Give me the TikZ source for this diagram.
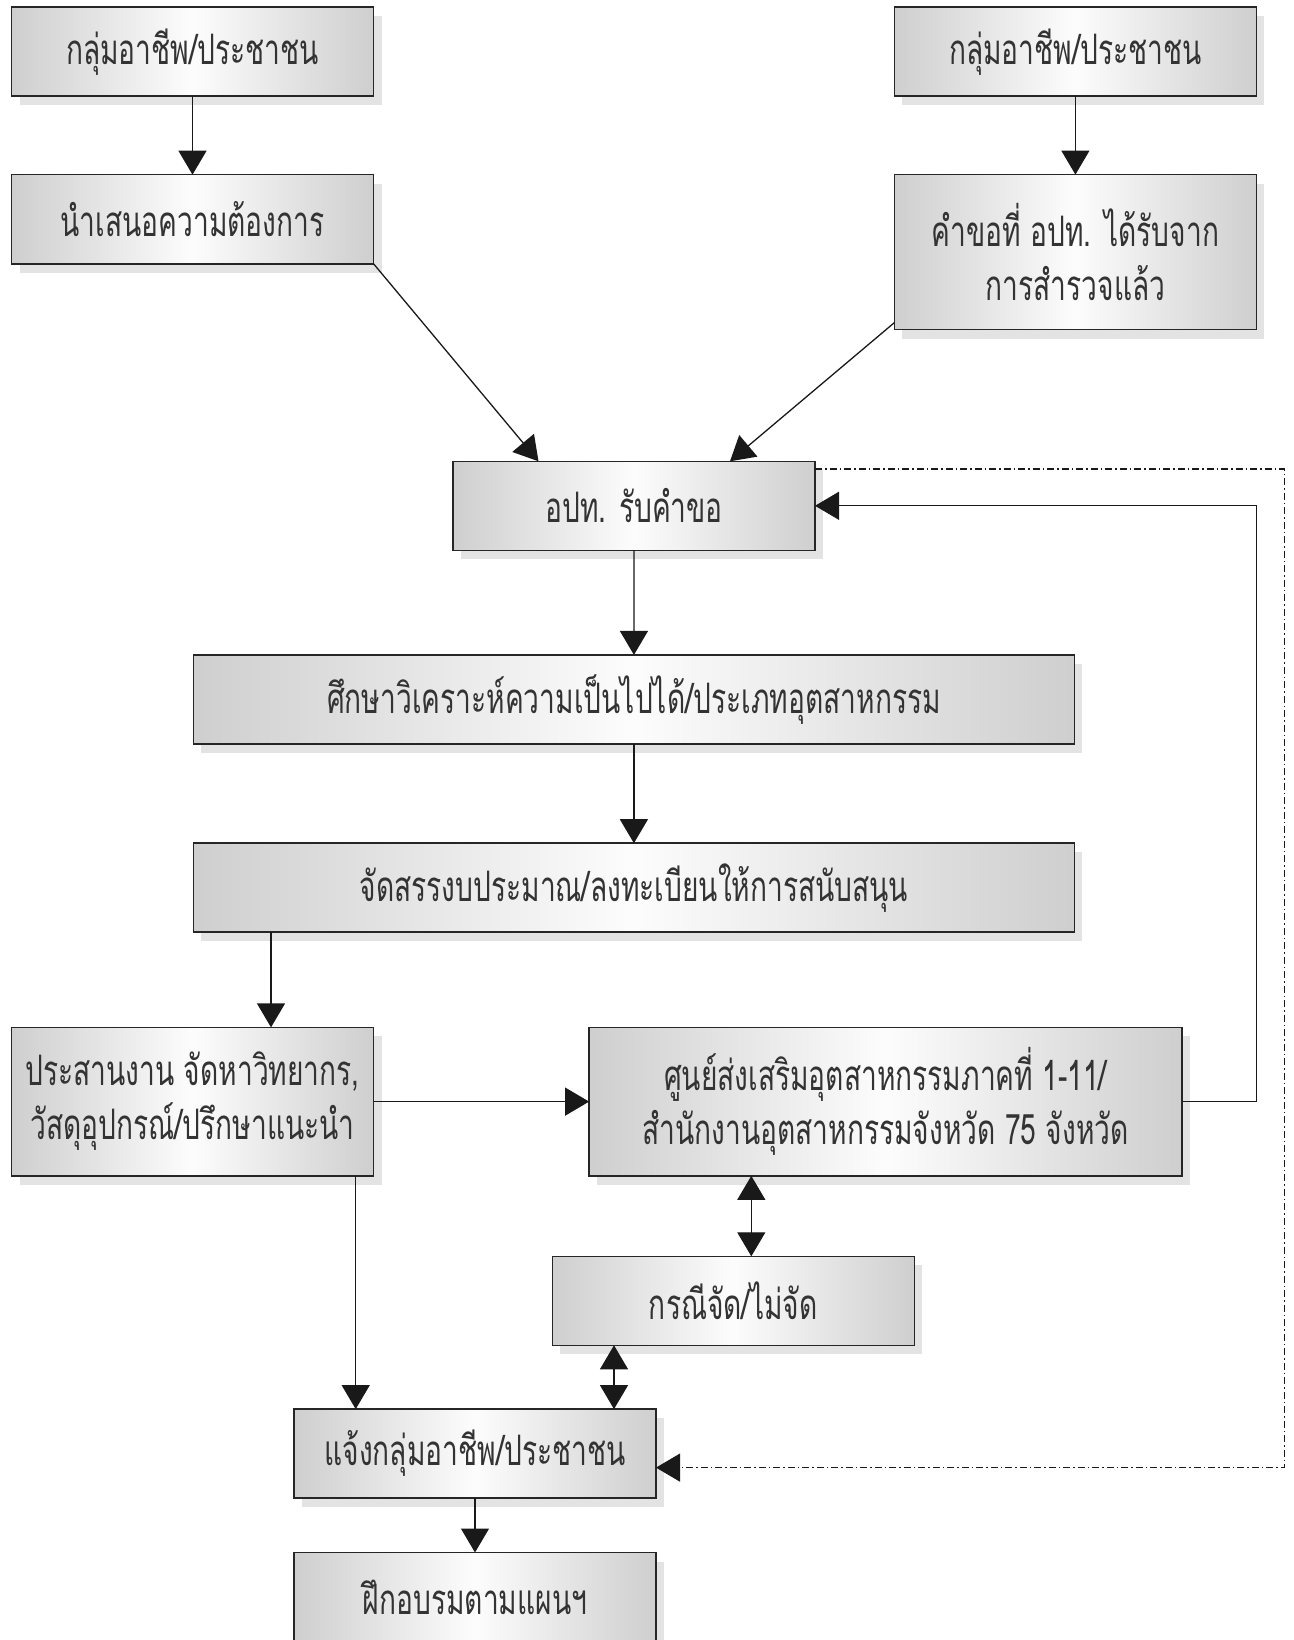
\documentclass[tikz,border=0pt]{standalone}
\usepackage{fontspec}
\newfontfamily\thaifont[Script=Thai,FakeStretch=0.67]{Loma}
\usetikzlibrary{arrows.meta,shadows}

\begin{document}
\begin{tikzpicture}[x=1pt,y=-1pt]
%
% Macros
%
\pgfmathsetmacro{\largeur}{362}%
\pgfmathsetmacro{\hauteur}{89}%
\pgfmathsetmacro{\large}{881}%

%
% Styles
%
\tikzset{every node/.style={font=\thaifont\fontsize{42}{54}\selectfont, text=black!80}};%
\tikzset{boite/.style={rectangle, draw=black!85, line width=1.6pt, inner sep=0pt, outer sep=0pt,%
    minimum width=\largeur pt, minimum height=\hauteur pt, align=center,%
    left color=black!19, right color=black!19, middle color=black!1,%
    drop shadow={shadow xshift=8pt, shadow yshift=-9pt, fill=black!11, opacity=1}}};%
\tikzset{pointe/.tip={Triangle[length=24pt,width=28pt]}};%
\tikzset{fleche/.style={-pointe, line width=1.3pt, black!90}};%
\tikzset{fleche double/.style={pointe-pointe, line width=1.3pt, black!90}};%
\tikzset{tiret/.style={-pointe, line width=1.1pt, black!90,%
    dash pattern=on 7pt off 3pt on 1.5pt off 3pt}};%

\useasboundingbox (0,0) rectangle (1293,1640);%

%
% Boxes
%
\node[boite] (b1) at (192.5,51.8) {กลุ่มอาชีพ/ประชาชน};%
\node[boite] (b2) at (192.5,219.2) {นำเสนอความต้องการ};%
\node[boite] (b3) at (1075.4,51.8) {กลุ่มอาชีพ/ประชาชน};%
\node[boite, minimum height=155pt] (b4) at (1075.4,252.1) {คำขอที่ อปท. ได้รับจาก\\การสำรวจแล้ว};%
\node[boite] (b5) at (634,505.8) {อปท. รับคำขอ};%
\node[boite, minimum width=\large pt] (b6) at (633.9,699.4) {ศึกษาวิเคราะห์ความเป็นไปได้/ประเภทอุตสาหกรรม};%
\node[boite, minimum width=\large pt] (b7) at (633.9,887.7) {จัดสรรงบประมาณ/ลงทะเบียนให้การสนับสนุน};%
\node[boite, minimum height=148.5pt] (b8) at (192.5,1101.6) {ประสานงาน จัดหาวิทยากร,\\วัสดุอุปกรณ์/ปรึกษาแนะนำ};%
\node[boite, minimum width=593pt, minimum height=148.5pt] (b9) at (885.6,1101.6) {ศูนย์ส่งเสริมอุตสาหกรรมภาคที่ 1-11/\\สำนักงานอุตสาหกรรมจังหวัด 75 จังหวัด};%
\node[boite] (b10) at (733.3,1300.8) {กรณีจัด/ไม่จัด};%
\node[boite] (b11) at (475,1453.6) {แจ้งกลุ่มอาชีพ/ประชาชน};%
\node[boite] (b12) at (475,1597) {ฝึกอบรมตามแผนฯ};%

%
% Connectors
%
\coordinate (b8haut) at ([xshift=78.5pt]b8.north);%
\coordinate (b10haut) at ([xshift=18pt]b10.north);%
\coordinate (b11gauche) at ([xshift=-119.3pt]b11.north);%
\coordinate (b11droite) at ([xshift=139pt]b11.north);%
\coordinate (retour) at (1284.3,469);%

\draw[fleche] (b1) -- (b2);%
\draw[fleche] (b3) -- (b4);%
\draw[fleche] (b2.south east) -- ([xshift=85.5pt]b5.north west);%
\draw[fleche] ([yshift=7pt]b4.south west) -- ([xshift=-85pt]b5.north east);%
\draw[fleche] (b5) -- (b6);%
\draw[fleche] (b6) -- (b7);%
\draw[fleche] (b8haut |- b7.south) -- (b8haut);%
\draw[fleche] (b8) -- (b9);%
\draw[fleche] (b9.east) -- (b9.east -| b4.east) |- (b5.east);%
\draw[fleche double] (b10haut |- b9.south) -- (b10haut);%
\draw[fleche double] (b11droite |- b10.south) -- (b11droite);%
\draw[fleche] (b11gauche |- b8.south) -- (b11gauche);%
\draw[fleche] (b11) -- (b12);%
\draw[tiret] (b5.east |- retour) -- (retour) |- ([yshift=-14pt]b11.east);%
\end{tikzpicture}
\end{document}
